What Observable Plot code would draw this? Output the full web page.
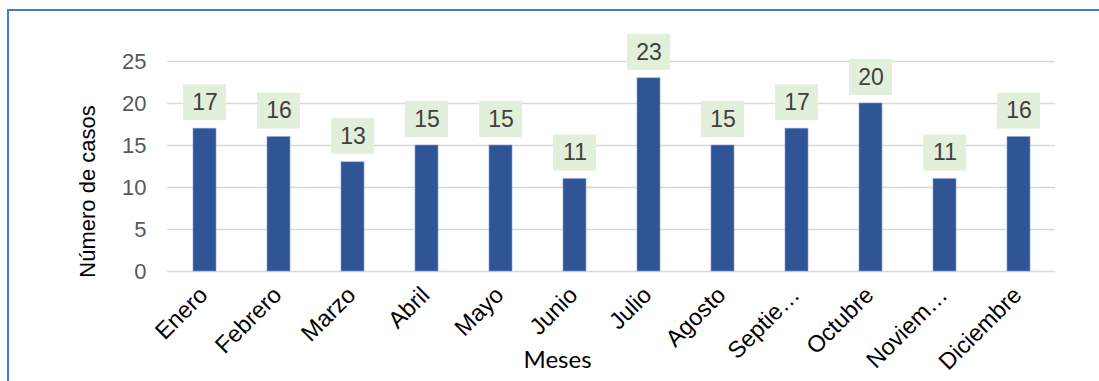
<!DOCTYPE html>
<html>
<head>
<meta charset="utf-8">
<script src="https://cdn.jsdelivr.net/npm/d3@7"></script>
<script src="https://cdn.jsdelivr.net/npm/@observablehq/plot@0.6"></script>
<style>
  html, body { margin: 0; padding: 0; background: #fff; }
  #wrap { position: relative; width: 1099px; height: 381px; overflow: hidden; }
  #border {
    position: absolute; left: 7px; top: 9px; right: -10px; bottom: -10px;
    border-top: 2px solid #4A78CC; border-left: 2px solid #4A78CC;
    pointer-events: none;
  }
  svg { display: block; }
</style>
</head>
<body>
<div id="wrap"><div id="border"></div></div>
<script>
// Monthly case counts
const meses = ["Enero", "Febrero", "Marzo", "Abril", "Mayo", "Junio", "Julio",
               "Agosto", "Septie…", "Octubre", "Noviem…", "Diciembre"];
const casos = [17, 16, 13, 15, 15, 11, 23, 15, 17, 20, 11, 16];
const yTicks = [0, 5, 10, 15, 20, 25];

const data = meses.map((mes, i) => ({mes, casos: casos[i]}));
const sans = "Liberation Sans, Arial, sans-serif";

const chart = Plot.plot({
  width: 1099,
  height: 381,
  marginLeft: 167,
  marginRight: 44,
  marginTop: 61,
  marginBottom: 110,
  style: {background: "transparent", fontFamily: sans},
  x: {domain: meses, paddingInner: 0.69, paddingOuter: 0.345, label: null, axis: null},
  y: {domain: [0, 25], label: null, axis: null},
  marks: [
    Plot.ruleY(yTicks, {stroke: "#D9D9D9", strokeWidth: 1.5}),
    Plot.barY(data, {x: "mes", y: "casos", fill: "#2F5597", stroke: "#7F9FD6", strokeWidth: 0.6}),
    // value label boxes sitting just above each bar
    Plot.barY(data, {
      x: "mes", y1: "casos", y2: "casos",
      fill: "#E2EFDA",
      insetLeft: -10, insetRight: -10, insetTop: -44, insetBottom: 8
    }),
    Plot.text(data, {
      x: "mes", y: "casos", text: d => String(d.casos),
      dy: -26, fontSize: 23, fill: "#404040", fontFamily: sans
    }),
    // y tick labels
    Plot.text(yTicks, {
      y: d => d, text: d => String(d), frameAnchor: "left", textAnchor: "end",
      dx: -21, fontSize: 22, fill: "#595959", fontFamily: sans
    }),
    // x tick labels, rotated
    Plot.text(meses, {
      x: d => d, text: d => d, frameAnchor: "bottom", textAnchor: "end",
      rotate: -45, dx: 4, dy: 25, fontSize: 23.5, fill: "#000", fontFamily: sans
    }),
    Plot.text(["Número de casos"], {
      frameAnchor: "left", textAnchor: "middle", rotate: -90, dx: -80, dy: 25,
      fontSize: 22, fill: "#000", fontFamily: "Liberation Sans Narrow, Liberation Sans, sans-serif",
      letterSpacing: "-1px"
    }),
    Plot.text(["Meses"], {
      frameAnchor: "bottom", dx: -54, dy: 96,
      fontSize: 24, fill: "#000", fontFamily: "Lato, Carlito, sans-serif"
    })
  ]
});

document.getElementById("wrap").prepend(chart);
</script>
</body>
</html>
